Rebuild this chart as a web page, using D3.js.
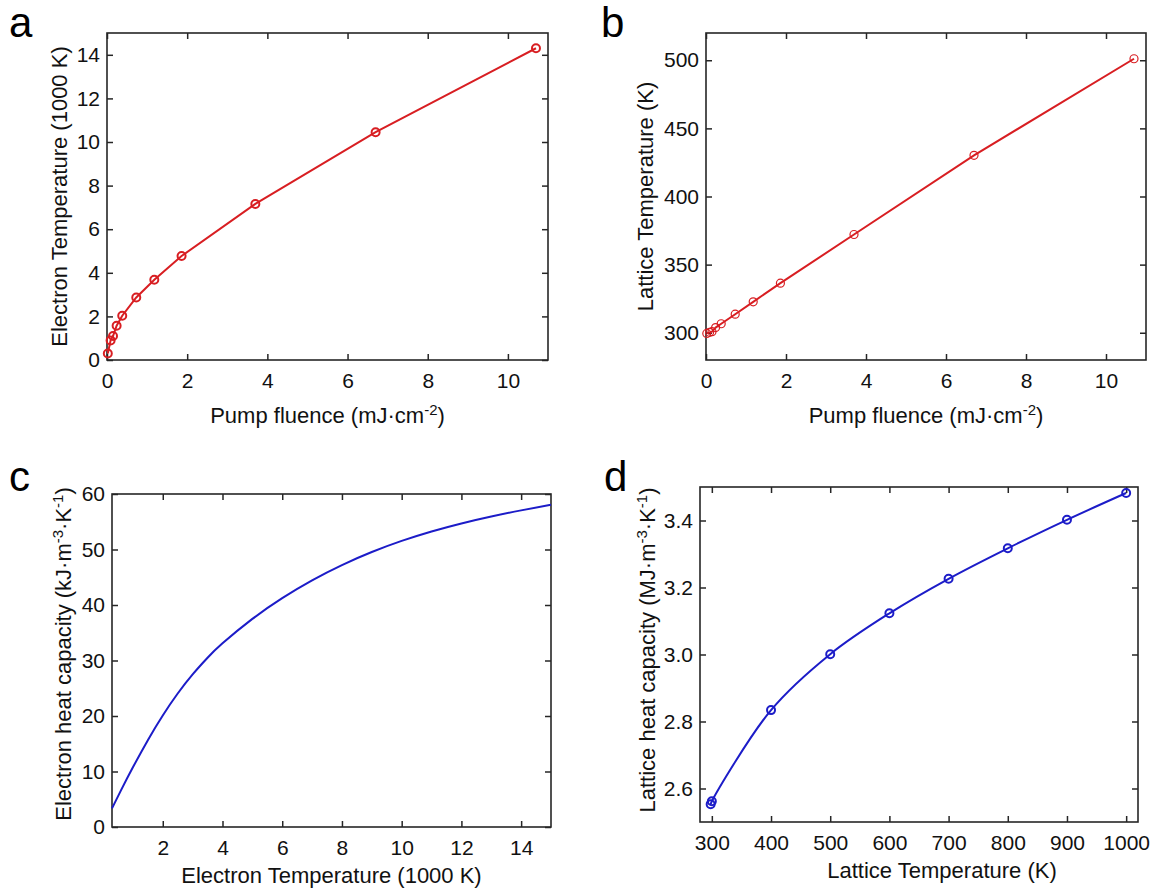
<!DOCTYPE html>
<html>
<head>
<meta charset="utf-8">
<script src="https://cdn.jsdelivr.net/npm/d3@7"></script>
<style>
  html, body { margin: 0; padding: 0; background: #fff; }
  svg { display: block; font-family: Arial, "Liberation Sans", sans-serif; }
</style>
</head>
<body>
<svg id="fig" width="1156" height="890"></svg>
<script>
// Pump fluence (mJ/cm^2) shared by panels a and b
const fluence = [0.02, 0.09, 0.15, 0.24, 0.38, 0.73, 1.18, 1.86, 3.70, 6.70, 10.70];
// Peak electron temperature (1000 K)
const electronTemp = [0.30, 0.90, 1.10, 1.57, 2.03, 2.87, 3.68, 4.77, 7.16, 10.45, 14.30];
// Peak lattice temperature (K)
const latticeTemp = [299.5, 300.3, 300.8, 303.8, 306.6, 313.6, 322.7, 336.4, 372.1, 430.2, 501.1];

// Electron heat capacity curve: temperature (1000 K) vs kJ m^-3 K^-1
const ceTemp = [0.3, 0.6, 1.0, 1.5, 2.0, 2.5, 3.0, 3.5, 4.0, 5.0, 6.0, 7.0, 8.0, 9.0, 10.0, 11.0, 12.0, 13.0, 14.0, 15.0];
const ceValue = [3.36, 6.6, 10.75, 15.65, 20.1, 24.05, 27.5, 30.5, 33.1, 37.5, 41.25, 44.45, 47.2, 49.55, 51.55, 53.25, 54.7, 55.95, 57.05, 58.05];

// Lattice heat capacity: temperature (K) vs MJ m^-3 K^-1
const clTemp = [298, 300, 400, 500, 600, 700, 800, 900, 1000];
const clValue = [2.553, 2.562, 2.834, 3.001, 3.123, 3.226, 3.317, 3.402, 3.482];

// Tick values
const ticksA = { x: [0, 2, 4, 6, 8, 10], y: [0, 2, 4, 6, 8, 10, 12, 14] };
const ticksB = { x: [0, 2, 4, 6, 8, 10], y: [300, 350, 400, 450, 500] };
const ticksC = { x: [2, 4, 6, 8, 10, 12, 14], y: [0, 10, 20, 30, 40, 50, 60] };
const ticksD = { x: [300, 400, 500, 600, 700, 800, 900, 1000], y: [2.6, 2.8, 3.0, 3.2, 3.4] };

const RED = "#d81e22";
const BLUE = "#1c1cc8";
const AXIS = "#262626";
const TICK_FONT = 21;
const TITLE_FONT = 22;
const SUP_FONT = 15;

const svg = d3.select("#fig");

// Writes a label made of [text, isSuperscript] pieces
function richText(sel, parts) {
  let raised = false;
  parts.forEach(([t, sup]) => {
    const ts = sel.append("tspan").text(t);
    if (sup && !raised) { ts.attr("dy", -8).attr("font-size", SUP_FONT); raised = true; }
    else if (sup) { ts.attr("font-size", SUP_FONT); }
    else if (!sup && raised) { ts.attr("dy", 8); raised = false; }
  });
}

function panel(o) {
  const g = svg.append("g");
  const x = d3.scaleLinear().domain(o.xDomain).range([o.left, o.right]);
  const y = d3.scaleLinear().domain(o.yDomain).range([o.bottom, o.top]);
  const tl = 6;

  const fmtX = o.fmtX || (d => d);
  const fmtY = o.fmtY || (d => d);

  const axes = [
    [d3.axisBottom(x).tickValues(o.ticks.x).tickSize(-tl).tickPadding(13).tickFormat(fmtX), `translate(0,${o.bottom})`],
    [d3.axisTop(x).tickValues(o.ticks.x).tickSize(-tl).tickFormat(""), `translate(0,${o.top})`],
    [d3.axisLeft(y).tickValues(o.ticks.y).tickSize(-tl).tickPadding(7).tickFormat(fmtY), `translate(${o.left},0)`],
    [d3.axisRight(y).tickValues(o.ticks.y).tickSize(-tl).tickFormat(""), `translate(${o.right},0)`]
  ];
  axes.forEach(([ax, tr]) => {
    const a = g.append("g").attr("transform", tr).call(ax);
    a.select(".domain").remove();
    a.selectAll("line").attr("stroke", AXIS).attr("stroke-width", 1.5);
    a.selectAll("text").attr("font-size", TICK_FONT).attr("fill", "#111")
      .attr("font-family", "Arial, 'Liberation Sans', sans-serif");
  });

  g.append("rect")
    .attr("x", o.left).attr("y", o.top)
    .attr("width", o.right - o.left).attr("height", o.bottom - o.top)
    .attr("fill", "none").attr("stroke", AXIS).attr("stroke-width", 1.6);

  const pts = o.xs.map((v, i) => [v, o.ys[i]]);
  const line = d3.line().x(d => x(d[0])).y(d => y(d[1])).curve(o.curve || d3.curveLinear);
  g.append("path").datum(pts)
    .attr("d", line).attr("fill", "none")
    .attr("stroke", o.color).attr("stroke-width", o.lineWidth || 2);

  if (o.markers) {
    g.selectAll(null).data(pts).enter().append("circle")
      .attr("cx", d => x(d[0])).attr("cy", d => y(d[1]))
      .attr("r", o.markerR).attr("fill", "none")
      .attr("stroke", o.color).attr("stroke-width", o.markerW);
  }

  const xt = g.append("text")
    .attr("x", o.xTitleX ?? (o.left + o.right) / 2).attr("y", o.xTitleY)
    .attr("text-anchor", "middle").attr("font-size", TITLE_FONT).attr("fill", "#111");
  richText(xt, o.xTitle);

  const yt = g.append("text")
    .attr("transform", `translate(${o.yTitleX},${o.yTitleY ?? (o.top + o.bottom) / 2}) rotate(-90)`)
    .attr("text-anchor", "middle").attr("font-size", TITLE_FONT).attr("fill", "#111");
  richText(yt, o.yTitle);

  svg.append("text").attr("x", o.letterX).attr("y", o.letterY)
    .attr("font-size", 42).attr("fill", "#000").text(o.letter);
}

// a: electron temperature vs fluence
panel({
  left: 107, right: 548, top: 33, bottom: 360,
  xDomain: [0, 11], yDomain: [0, 15], ticks: ticksA,
  xs: fluence, ys: electronTemp, color: RED, lineWidth: 2,
  markers: true, markerR: 4, markerW: 2,
  xTitle: [["Pump fluence (mJ\u00b7cm"], ["-2", true], [")"]], xTitleY: 423,
  yTitle: [["Electron Temperature (1000 K)"]], yTitleX: 67,
  letter: "a", letterX: 9, letterY: 37
});

// b: lattice temperature vs fluence
panel({
  left: 706, right: 1146, top: 33, bottom: 360,
  xDomain: [0, 11], yDomain: [280, 520], ticks: ticksB,
  xs: fluence, ys: latticeTemp, color: RED, lineWidth: 2,
  markers: true, markerR: 4, markerW: 1.2,
  xTitle: [["Pump fluence (mJ\u00b7cm"], ["-2", true], [")"]], xTitleY: 423,
  yTitle: [["Lattice Temperature (K)"]], yTitleX: 653,
  letter: "b", letterX: 601, letterY: 37
});

// c: electron heat capacity
panel({
  left: 112, right: 551, top: 494, bottom: 827,
  xDomain: [0.3, 15], yDomain: [0, 60], ticks: ticksC,
  xs: ceTemp, ys: ceValue, color: BLUE, lineWidth: 2,
  curve: d3.curveNatural, markers: false,
  xTitle: [["Electron Temperature (1000 K)"]], xTitleY: 883,
  yTitle: [["Electron heat capacity (kJ\u00b7m"], ["-3", true], ["\u00b7K"], ["-1", true], [")"]], yTitleX: 71, yTitleY: 654,
  letter: "c", letterX: 9, letterY: 491
});

// d: lattice heat capacity
panel({
  left: 700, right: 1138, top: 487, bottom: 822,
  xDomain: [280, 1020], yDomain: [2.5, 3.5], ticks: ticksD,
  fmtY: d3.format(".1f"),
  xs: clTemp, ys: clValue, color: BLUE, lineWidth: 2,
  curve: d3.curveCatmullRom.alpha(0.5), markers: true, markerR: 4, markerW: 2,
  xTitle: [["Lattice Temperature (K)"]], xTitleY: 878, xTitleX: 942,
  yTitle: [["Lattice heat capacity (MJ\u00b7m"], ["-3", true], ["\u00b7K"], ["-1", true], [")"]], yTitleX: 655, yTitleY: 650,
  letter: "d", letterX: 604, letterY: 491
});
</script>
</body>
</html>
